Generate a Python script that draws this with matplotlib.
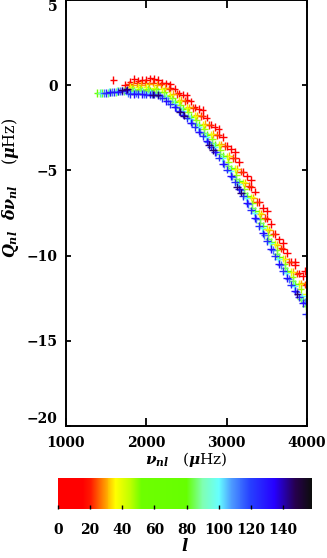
#!/usr/bin/env python3
import numpy as np
import matplotlib
matplotlib.use("Agg")
import matplotlib.pyplot as plt
from matplotlib.colors import LinearSegmentedColormap, Normalize
from matplotlib.cm import ScalarMappable

plt.rcParams['font.family'] = 'DejaVu Serif'
plt.rcParams['font.weight'] = 'bold'
plt.rcParams['mathtext.fontset'] = 'dejavuserif'

# degree l of each mode set, with frequencies nu (muHz) and Q*dnu (muHz)
l_vals = [2, 4, 8, 14, 22, 30, 38, 48, 65, 85, 100, 112, 125, 132, 145]

nu_l2 = [1590, 1735, 3975]
dq_l2 = [0.30, 0.00, -10.90]

nu_l4 = [2300, 2500, 2700, 2900, 3100, 3300, 3500, 3700, 3850]
dq_l4 = [0.05, -0.60, -1.45, -2.55, -3.90, -5.55, -7.40, -9.25, -10.35]

nu_l8 = [1850, 1950, 2050, 2150, 2250, 2350, 2450, 2550, 2650, 2750, 2850, 2950,
         3050, 3150, 3250, 3350, 3450, 3550, 3650, 3750, 3850, 3950]
dq_l8 = [0.35, 0.30, 0.40, 0.30, 0.10, -0.20, -0.55, -0.95, -1.40, -1.90, -2.45, -3.05,
         -3.75, -4.50, -5.35, -6.25, -7.20, -8.15, -9.05, -9.85, -10.55, -11.20]

nu_l14 = [1800, 1900, 2000, 2100, 2200, 2300, 2400, 2500, 2600, 2700, 2800, 2900,
          3000, 3100, 3200, 3300, 3400, 3500, 3600, 3700, 3800, 3900, 4000]
dq_l14 = [0.20, 0.25, 0.30, 0.35, 0.15, -0.16, -0.48, -0.87, -1.30, -1.79, -2.31, -2.90,
          -3.56, -4.28, -5.08, -5.96, -6.87, -7.83, -8.75, -9.60, -10.35, -11.04, -11.67]

nu_l22 = [1780, 1880, 1980, 2080, 2180, 2280, 2380, 2480, 2580, 2680, 2780, 2880,
          2980, 3080, 3180, 3280, 3380, 3480, 3580, 3680, 3780, 3880, 3980]
dq_l22 = [0.05, 0.10, 0.15, 0.15, 0.05, -0.20, -0.52, -0.91, -1.33, -1.82, -2.34, -2.93,
          -3.57, -4.29, -5.07, -5.93, -6.84, -7.79, -8.71, -9.58, -10.36, -11.06, -11.70]

nu_l30 = [1830, 1930, 2030, 2130, 2230, 2330, 2430, 2530, 2630, 2730, 2830, 2930,
          3030, 3130, 3230, 3330, 3430, 3530, 3630, 3730, 3830, 3930]
dq_l30 = [0.00, 0.00, 0.05, 0.00, -0.15, -0.52, -0.88, -1.30, -1.77, -2.28, -2.85, -3.47,
          -4.16, -4.91, -5.73, -6.61, -7.54, -8.47, -9.37, -10.20, -10.94, -11.63]

nu_l38 = [1800, 1900, 2000, 2100, 2200, 2300, 2400, 2500, 2600, 2700, 2800, 2900,
          3000, 3100, 3200, 3300, 3400, 3500, 3600, 3700, 3800, 3900, 3990]
dq_l38 = [-0.10, -0.10, -0.10, -0.15, -0.25, -0.58, -0.94, -1.35, -1.81, -2.33, -2.89, -3.50,
          -4.18, -4.91, -5.71, -6.58, -7.49, -8.42, -9.33, -10.18, -10.95, -11.67, -12.25]

nu_l48 = [1820, 1920, 2020, 2120, 2220, 2320, 2420, 2520, 2620, 2720, 2820, 2920,
          3020, 3120, 3220, 3320, 3420, 3520, 3620, 3720, 3820, 3920]
dq_l48 = [-0.20, -0.20, -0.20, -0.25, -0.40, -0.77, -1.15, -1.59, -2.07, -2.60, -3.18, -3.81,
          -4.51, -5.26, -6.07, -6.94, -7.85, -8.78, -9.67, -10.51, -11.28, -11.99]

nu_l65 = [1390, 1450, 1550, 1650, 1750, 1850, 1950, 2050, 2150, 2250, 2350, 2450,
          2550, 2650, 2750, 2850, 2950, 3050, 3150, 3250, 3350, 3450, 3550, 3650,
          3750, 3850, 3950, 3985]
dq_l65 = [-0.45, -0.45, -0.40, -0.35, -0.30, -0.30, -0.30, -0.30, -0.40, -0.63, -0.99, -1.39,
          -1.85, -2.35, -2.91, -3.51, -4.17, -4.88, -5.65, -6.48, -7.37, -8.28, -9.19, -10.08,
          -10.89, -11.65, -12.60, -12.95]

nu_l85 = [1420, 1520, 1620, 1720, 1820, 1920, 2020, 2120, 2220, 2320, 2420, 2520,
          2620, 2720, 2820, 2920, 3020, 3120, 3220, 3320, 3420, 3520, 3620, 3720,
          3820, 3920, 3990]
dq_l85 = [-0.45, -0.45, -0.40, -0.35, -0.35, -0.35, -0.35, -0.45, -0.62, -0.94, -1.34, -1.78,
          -2.27, -2.82, -3.41, -4.06, -4.76, -5.51, -6.32, -7.19, -8.10, -9.01, -9.90, -10.74,
          -11.52, -12.55, -12.95]

nu_l100 = [1440, 1540, 1640, 1740, 1840, 1940, 2040, 2140, 2240, 2340, 2440, 2540,
           2640, 2740, 2840, 2940, 3040, 3140, 3240, 3340, 3440, 3540, 3640, 3740,
           3840, 3940]
dq_l100 = [-0.45, -0.40, -0.35, -0.35, -0.40, -0.40, -0.45, -0.50, -0.74, -1.10, -1.50, -1.96,
           -2.47, -3.03, -3.64, -4.30, -5.01, -5.78, -6.60, -7.48, -8.38, -9.29, -10.18, -11.00,
           -11.77, -12.40]

nu_l112 = [1470, 1570, 1670, 1770, 1870, 1970, 2070, 2170, 2270, 2370, 2470, 2570,
           2670, 2770, 2870, 2970, 3070, 3170, 3270, 3370, 3470, 3570, 3670, 3770,
           3870, 3970]
dq_l112 = [-0.45, -0.40, -0.35, -0.45, -0.48, -0.52, -0.52, -0.62, -0.92, -1.30, -1.73, -2.21,
           -2.74, -3.32, -3.95, -4.63, -5.36, -6.15, -6.98, -7.87, -8.78, -9.68, -10.55, -11.36,
           -12.12, -12.70]

nu_l125 = [1500, 1600, 1700, 1800, 1900, 2000, 2100, 2200, 2300, 2400, 2500, 2600,
           2700, 2800, 2900, 3000, 3100, 3200, 3300, 3400, 3500, 3600, 3700, 3800,
           3900, 3990]
dq_l125 = [-0.45, -0.40, -0.35, -0.50, -0.50, -0.55, -0.55, -0.75, -1.10, -1.50, -1.95, -2.45,
           -3.00, -3.60, -4.25, -4.95, -5.70, -6.50, -7.35, -8.25, -9.15, -10.05, -10.90, -11.70,
           -12.45, -13.45]

nu_l132 = [1550, 1650, 1750, 1850, 1950, 2050, 2150, 2250, 2350, 2450, 2550, 2650,
           2750, 2850, 2950, 3050, 3150, 3250, 3350, 3450, 3550, 3650, 3750, 3850, 3950]
dq_l132 = [-0.42, -0.38, -0.30, -0.52, -0.53, -0.55, -0.60, -0.92, -1.30, -1.72, -2.20, -2.72,
           -3.30, -3.92, -4.60, -5.32, -6.10, -6.92, -7.80, -8.70, -9.60, -10.48, -11.30, -12.08,
           -12.80]

nu_l145 = [1700, 1760, 2080, 2140, 2420, 2470, 2780, 2830, 3130, 3180, 3880]
dq_l145 = [-0.30, -0.25, -0.55, -0.55, -1.55, -1.78, -3.50, -3.80, -5.95, -6.30, -12.25]

nu_sets = [nu_l2, nu_l4, nu_l8, nu_l14, nu_l22, nu_l30, nu_l38, nu_l48, nu_l65, nu_l85,
           nu_l100, nu_l112, nu_l125, nu_l132, nu_l145]
dq_sets = [dq_l2, dq_l4, dq_l8, dq_l14, dq_l22, dq_l30, dq_l38, dq_l48, dq_l65, dq_l85,
           dq_l100, dq_l112, dq_l125, dq_l132, dq_l145]

# colour table: red -> yellow -> green -> cyan -> blue -> black
lmax = 158.0
cmap_stops = [(0, (1.0, 0.0, 0.0)), (15, (1.0, 0.0, 0.0)), (20, (1.0, 0.1, 0.0)),
              (28, (1.0, 0.55, 0.0)), (36, (1.0, 1.0, 0.0)), (45, (0.75, 1.0, 0.0)),
              (52, (0.43, 1.0, 0.0)), (80, (0.4, 1.0, 0.0)), (90, (0.5, 1.0, 0.7)),
              (100, (0.4, 1.0, 1.0)), (108, (0.3, 0.6, 1.0)), (120, (0.15, 0.25, 1.0)),
              (135, (0.15, 0.0, 1.0)), (148, (0.15, 0.0, 0.3)), (158, (0.05, 0.05, 0.05))]
cmap = LinearSegmentedColormap.from_list(
    "idl_rainbow", [(p / lmax, c) for p, c in cmap_stops])
norm = Normalize(vmin=0, vmax=lmax)

fig = plt.figure(figsize=(3.27, 5.58), dpi=100)
ax = fig.add_axes([0.202, 0.2366, 0.737, 0.7634])

for l, nu, dq in zip(l_vals, nu_sets, dq_sets):
    ax.scatter(nu, dq, c=[l] * len(nu), cmap=cmap, norm=norm,
               marker='+', s=30, linewidths=1.0)

ax.set_xlim(1000, 4000)
ax.set_ylim(-20, 5)
ax.set_xticks([1000, 2000, 3000, 4000])
ax.set_yticks([-20, -15, -10, -5, 0, 5])
ax.set_yticklabels(['\u221220', '\u221215', '\u221210', '\u22125', '0', '5'])
ax.tick_params(direction='in', top=True, right=True, width=1.3, labelsize=10)
ax.tick_params(axis='x', length=6, pad=7)
ax.tick_params(axis='y', length=3.5, pad=6)
ylabs = ax.get_yticklabels()
ylabs[0].set_va('bottom')
ylabs[-1].set_va('top')
for sp in ax.spines.values():
    sp.set_linewidth(1.4)

ax.set_xlabel(r'$\nu_{nl}$   ($\mu$Hz)', fontsize=11, labelpad=0)
ax.set_ylabel(r'$Q_{nl}\ \ \delta\nu_{nl}$    ($\mu$Hz)', fontsize=11.5)
ax.yaxis.set_label_coords(-0.187, 0.56)

cax = fig.add_axes([0.177, 0.088, 0.777, 0.055])
sm = ScalarMappable(norm=norm, cmap=cmap)
cb = fig.colorbar(sm, cax=cax, orientation='horizontal', ticks=np.arange(0, 141, 20))
cb.outline.set_visible(False)
cb.ax.tick_params(direction='in', length=3, width=1, labelsize=10, pad=10)
cb.set_label(r'$l$', fontsize=12, labelpad=1)

plt.savefig("out.png", dpi=100)
